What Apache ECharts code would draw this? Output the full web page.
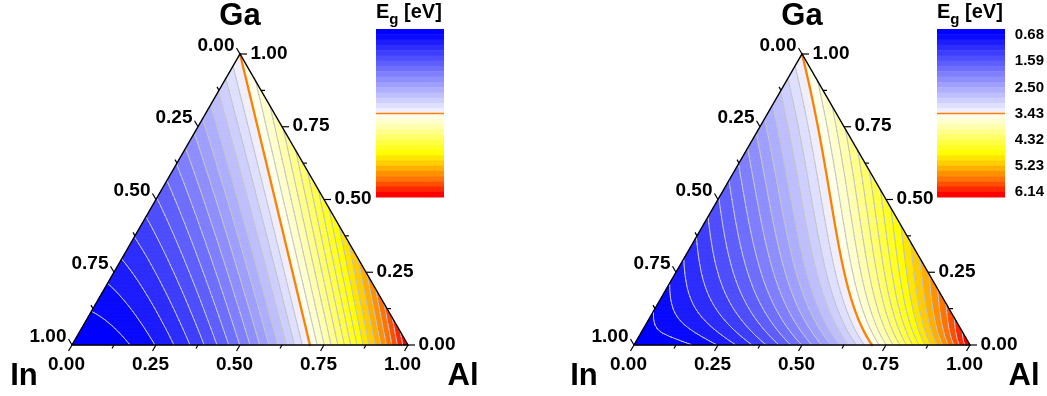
<!DOCTYPE html>
<html><head><meta charset="utf-8">
<script src="https://cdn.jsdelivr.net/npm/echarts@6/dist/echarts.min.js"></script>
<style>html,body{margin:0;padding:0;background:#fff}#c{width:1047px;height:396px}</style>
</head><body><div id="c"></div>
<script>
// ---------------- data ----------------
const endMembers = ['In', 'Ga', 'Al'];
const endGaps = [0.68, 3.43, 6.14];          // InN, GaN, AlN band gaps (eV)
const bowing = [1.43, 5.4, 1.0];            // InGaN, InAlN, AlGaN bowing (eV)
const panelModels = ['quadratic', 'ternaryInterp'];
const axisTicks = [0, 0.25, 0.5, 0.75, 1];
const axisTickLabels = ['0.00', '0.25', '0.50', '0.75', '1.00'];
const minorTicks = [0.125, 0.375, 0.625, 0.875];
const colorbarLabels = ['0.68', '1.59', '2.50', '3.43', '4.32', '5.23', '6.14'];
const bandsPerSide = 16;

// ---------------- styles ----------------
const lowColors = [0, 10, 28, 45, 62, 79, 95, 111, 127, 143, 159, 175, 191, 207, 223, 239]
  .map(v => `rgb(${v},${v},255)`);
const highColors = [
  [255,255,235],[255,255,205],[255,255,175],[255,255,140],[255,255,105],[255,255,70],[255,255,35],[255,255,0],
  [255,230,0],[255,205,0],[255,175,0],[255,145,0],[255,115,0],[255,80,0],[255,40,0],[255,0,0]
].map(c => `rgb(${c[0]},${c[1]},${c[2]})`);
const bandColors = lowColors.concat(highColors);
const FONT = '"Liberation Sans", Arial, sans-serif';
const SQ = Math.sqrt(3) / 2;
const N = 72;

// contour levels
const levels = [];
for (let k = 0; k <= bandsPerSide; k++) levels.push(endGaps[0] + k * (endGaps[1] - endGaps[0]) / bandsPerSide);
for (let k = 1; k <= bandsPerSide; k++) levels.push(endGaps[1] + k * (endGaps[2] - endGaps[1]) / bandsPerSide);
levels[bandsPerSide] = endGaps[1];
const ORANGE_LEVEL = bandsPerSide;

function gapQuadratic(i, g, a) {
  return i * endGaps[0] + g * endGaps[1] + a * endGaps[2]
    - bowing[0] * i * g - bowing[1] * i * a - bowing[2] * g * a;
}
function ternaryT(u, E1, E2, b) { return u * E1 + (1 - u) * E2 - b * u * (1 - u); }
function gapInterp(i, g, a) {
  const den = i * g + g * a + i * a;
  if (den < 1e-12) return gapQuadratic(i, g, a);
  const tIG = ternaryT((1 + i - g) / 2, endGaps[0], endGaps[1], bowing[0]);
  const tIA = ternaryT((1 + i - a) / 2, endGaps[0], endGaps[2], bowing[1]);
  const tGA = ternaryT((1 + g - a) / 2, endGaps[1], endGaps[2], bowing[2]);
  return (i * g * tIG + i * a * tIA + g * a * tGA) / den;
}
const models = { quadratic: gapQuadratic, ternaryInterp: gapInterp };

function clipHalf(poly, f) {
  const out = []; const n = poly.length;
  for (let k = 0; k < n; k++) {
    const A = poly[k], B = poly[(k + 1) % n];
    const fa = f(A), fb = f(B);
    if (fa >= 0) out.push(A);
    if ((fa >= 0) !== (fb >= 0)) {
      const t = fa / (fa - fb);
      out.push({ x: A.x + t * (B.x - A.x), y: A.y + t * (B.y - A.y), e: A.e + t * (B.e - A.e) });
    }
  }
  return out;
}

function buildPanel(fn) {
  const V = [];
  for (let r = 0; r <= N; r++) {
    V.push([]);
    for (let c = 0; c <= N - r; c++) {
      const g = r / N, a = c / N, i = Math.max(0, 1 - g - a);
      V[r].push({ x: a + g / 2, y: g * SQ, e: fn(i, g, a) });
    }
  }
  const tris = [];
  for (let r = 0; r < N; r++) for (let c = 0; c < N - r; c++) {
    tris.push([V[r][c], V[r][c + 1], V[r + 1][c]]);
    if (c < N - r - 1) tris.push([V[r][c + 1], V[r + 1][c + 1], V[r + 1][c]]);
  }
  const nb = levels.length - 1;
  const bands = []; for (let j = 0; j < nb; j++) bands.push([]);
  const segs = []; for (let j = 0; j < levels.length; j++) segs.push([]);
  tris.forEach(T => {
    const emin = Math.min(T[0].e, T[1].e, T[2].e), emax = Math.max(T[0].e, T[1].e, T[2].e);
    for (let j = 0; j < nb; j++) {
      const lo = j === 0 ? -Infinity : levels[j];
      const hi = j === nb - 1 ? Infinity : levels[j + 1];
      if (emax < lo || emin > hi) continue;
      let p = clipHalf(T, q => q.e - lo);
      if (p.length < 3) continue;
      p = clipHalf(p, q => hi - q.e);
      if (p.length < 3) continue;
      bands[j].push(p);
    }
    for (let j = 1; j < levels.length - 1; j++) {
      const L = levels[j];
      if (emax < L || emin > L) continue;
      const pts = [];
      for (let k = 0; k < 3; k++) {
        const A = T[k], B = T[(k + 1) % 3];
        const fa = A.e - L, fb = B.e - L;
        if ((fa >= 0) !== (fb >= 0)) {
          const t = fa / (fa - fb);
          pts.push([A.x + t * (B.x - A.x), A.y + t * (B.y - A.y)]);
        }
      }
      if (pts.length === 2) segs[j].push(pts);
    }
  });
  return { bands, segs };
}

const panels = panelModels.map(m => buildPanel(models[m]));

// ---------------- chart ----------------
const chart = echarts.init(document.getElementById('c'), null, { renderer: 'canvas' });

function fillSeries(p) {
  return {
    type: 'custom', xAxisIndex: p, yAxisIndex: p, silent: true, animation: false, z: 1,
    data: panels[p].bands.map((b, j) => [0, 0, j]),
    renderItem: (params, api) => {
      const j = api.value(2);
      const polys = panels[p].bands[j];
      let d = '';
      polys.forEach(poly => {
        poly.forEach((pt, k) => {
          const c = api.coord([pt.x, pt.y]);
          d += (k ? 'L' : 'M') + c[0].toFixed(2) + ' ' + c[1].toFixed(2);
        });
        d += 'Z';
      });
      if (!d) return null;
      return { type: 'path', shape: { pathData: d }, style: { fill: bandColors[j], stroke: bandColors[j], lineWidth: 0.6 } };
    }
  };
}
function lineSeries(p) {
  const idx = []; for (let j = 1; j < levels.length - 1; j++) idx.push(j);
  idx.sort((a, b) => (a === ORANGE_LEVEL) - (b === ORANGE_LEVEL));
  return {
    type: 'custom', xAxisIndex: p, yAxisIndex: p, silent: true, animation: false, z: 2,
    data: idx.map(j => [0, 0, j]),
    renderItem: (params, api) => {
      const j = api.value(2);
      let d = '';
      panels[p].segs[j].forEach(s => {
        const a = api.coord(s[0]), b = api.coord(s[1]);
        d += 'M' + a[0].toFixed(2) + ' ' + a[1].toFixed(2) + 'L' + b[0].toFixed(2) + ' ' + b[1].toFixed(2);
      });
      const orange = j === ORANGE_LEVEL;
      return { type: 'path', shape: { pathData: d },
        style: { fill: 'none', stroke: orange ? '#ff8000' : '#c4c4c4', lineWidth: orange ? 2.3 : 1, lineCap: 'round' } };
    }
  };
}
function edgePoint(axis, v) {
  if (axis === 2) return [v, 0];                 // Al axis (bottom)
  if (axis === 0) { const g = 1 - v; return [g / 2, g * SQ]; } // In axis (left)
  return [1 - v / 2, v * SQ];                    // Ga axis (right)
}
const tickDir = { 0: [-0.5, -SQ], 1: [1, 0], 2: [-0.5, SQ] };
function axisSeries(p) {
  const data = [[0, 0, -1, 0, 0, -1]];
  [0, 1, 2].forEach(ax => {
    axisTicks.forEach((v, k) => data.push([0, 0, ax, v, 1, k]));
    minorTicks.forEach(v => data.push([0, 0, ax, v, 0, -1]));
  });
  return {
    type: 'custom', xAxisIndex: p, yAxisIndex: p, silent: true, animation: false, z: 5,
    dimensions: ['x', 'y', 'axis', 'value', 'major', 'label'],
    data,
    renderItem: (params, api) => {
      const ax = api.value(2);
      if (ax === -1) {
        const A = api.coord([0, 0]), B = api.coord([1, 0]), C = api.coord([0.5, SQ]);
        return { type: 'polygon', shape: { points: [A, B, C] }, style: { fill: 'none', stroke: '#000', lineWidth: 1.4, lineJoin: 'miter' } };
      }
      const v = api.value(3), major = api.value(4) === 1;
      const P = api.coord(edgePoint(ax, v));
      const dir = tickDir[ax], len = major ? 7 : 4;
      const children = [{ type: 'line', shape: { x1: P[0], y1: P[1], x2: P[0] + dir[0] * len, y2: P[1] + dir[1] * len },
        style: { stroke: '#000', lineWidth: 1.2 } }];
      if (major) {
        const txt = axisTickLabels[api.value(5)];
        let x, y, align;
        if (ax === 2) { x = P[0] - 5.5; y = P[1] + 20; align = 'center'; }
        else if (ax === 0) { x = P[0] - 5.5; y = P[1] - 8.5; align = 'right'; }
        else { x = P[0] + 10.5; y = P[1] - 0.7; align = 'left'; }
        children.push({ type: 'text', x, y, style: { text: txt, font: 'bold 19px ' + FONT, fill: '#000',
          textAlign: align, align, textVerticalAlign: 'middle', verticalAlign: 'middle' } });
      }
      return { type: 'group', children };
    }
  };
}
function colorbarSeries(gi) {
  const nb = levels.length - 1;
  const data = []; for (let j = 0; j < nb; j++) data.push([0, 0, j]);
  data.push([0, 0, -1]);
  return {
    type: 'custom', xAxisIndex: gi, yAxisIndex: gi, silent: true, animation: false, z: 2,
    data,
    renderItem: (params, api) => {
      const j = api.value(2);
      if (j === -1) {
        const a = api.coord([0, endGaps[1]]), b = api.coord([1, endGaps[1]]);
        return { type: 'line', shape: { x1: a[0], y1: a[1], x2: b[0], y2: b[1] }, style: { stroke: '#ff8000', lineWidth: 1.5 }, z2: 10 };
      }
      const a = api.coord([0, levels[j]]), b = api.coord([1, levels[j + 1]]);
      return { type: 'rect', shape: { x: a[0], y: Math.min(a[1], b[1]), width: b[0] - a[0], height: Math.abs(b[1] - a[1]) + 0.5 },
        style: { fill: bandColors[j] } };
    }
  };
}

const hiddenAxis = (gi, min, max, inverse) => ({ gridIndex: gi, type: 'value', min, max, inverse: !!inverse, show: false });

const cornerLabel = (txt, x, y) => ({ type: 'text', x, y, silent: true,
  style: { text: txt, font: 'bold 31px ' + FONT, fill: '#000', textAlign: 'center', align: 'center', textVerticalAlign: 'middle', verticalAlign: 'middle' } });
const cbTitle = (x) => ({ type: 'text', x, y: 2, silent: true,
  style: { text: '{e|E}{s|g}{e| [eV]}', fill: '#000',
    rich: { e: { font: 'bold 20px ' + FONT, fill: '#000', verticalAlign: 'top', lineHeight: 22, padding: [0, 0, 0, 0] },
            s: { font: 'bold 15px ' + FONT, fill: '#000', verticalAlign: 'top', lineHeight: 15, padding: [10, 0, 0, 0] } } } });

chart.setOption({
  backgroundColor: '#fff',
  animation: false,
  grid: [
    { left: 72, top: 54, width: 336, height: 291 },
    { left: 634, top: 54, width: 336, height: 291 },
    { left: 376, top: 29, width: 68, height: 168 },
    { left: 937, top: 29, width: 68, height: 168 },
    { left: 937, top: 21.9, width: 68, height: 183.4 }
  ],
  xAxis: [hiddenAxis(0, 0, 1), hiddenAxis(1, 0, 1), hiddenAxis(2, 0, 1), hiddenAxis(3, 0, 1), hiddenAxis(4, 0, 1)],
  yAxis: [
    hiddenAxis(0, 0, SQ), hiddenAxis(1, 0, SQ),
    hiddenAxis(2, endGaps[0], endGaps[2], true), hiddenAxis(3, endGaps[0], endGaps[2], true),
    { gridIndex: 4, type: 'category', data: colorbarLabels, inverse: true, position: 'right',
      axisLine: { show: false }, axisTick: { show: false }, splitLine: { show: false },
      axisLabel: { show: true, margin: 10, color: '#000', fontWeight: 'bold', fontSize: 15, fontFamily: FONT } }
  ],
  series: [
    fillSeries(0), lineSeries(0), axisSeries(0),
    fillSeries(1), lineSeries(1), axisSeries(1),
    colorbarSeries(2), colorbarSeries(3)
  ],
  graphic: [
    cornerLabel(endMembers[1], 240, 16), cornerLabel(endMembers[0], 24, 376), cornerLabel(endMembers[2], 463, 376),
    cornerLabel(endMembers[1], 802, 16), cornerLabel(endMembers[0], 584, 376), cornerLabel(endMembers[2], 1024, 376),
    cbTitle(376), cbTitle(937)
  ]
});
</script>
</body></html>
